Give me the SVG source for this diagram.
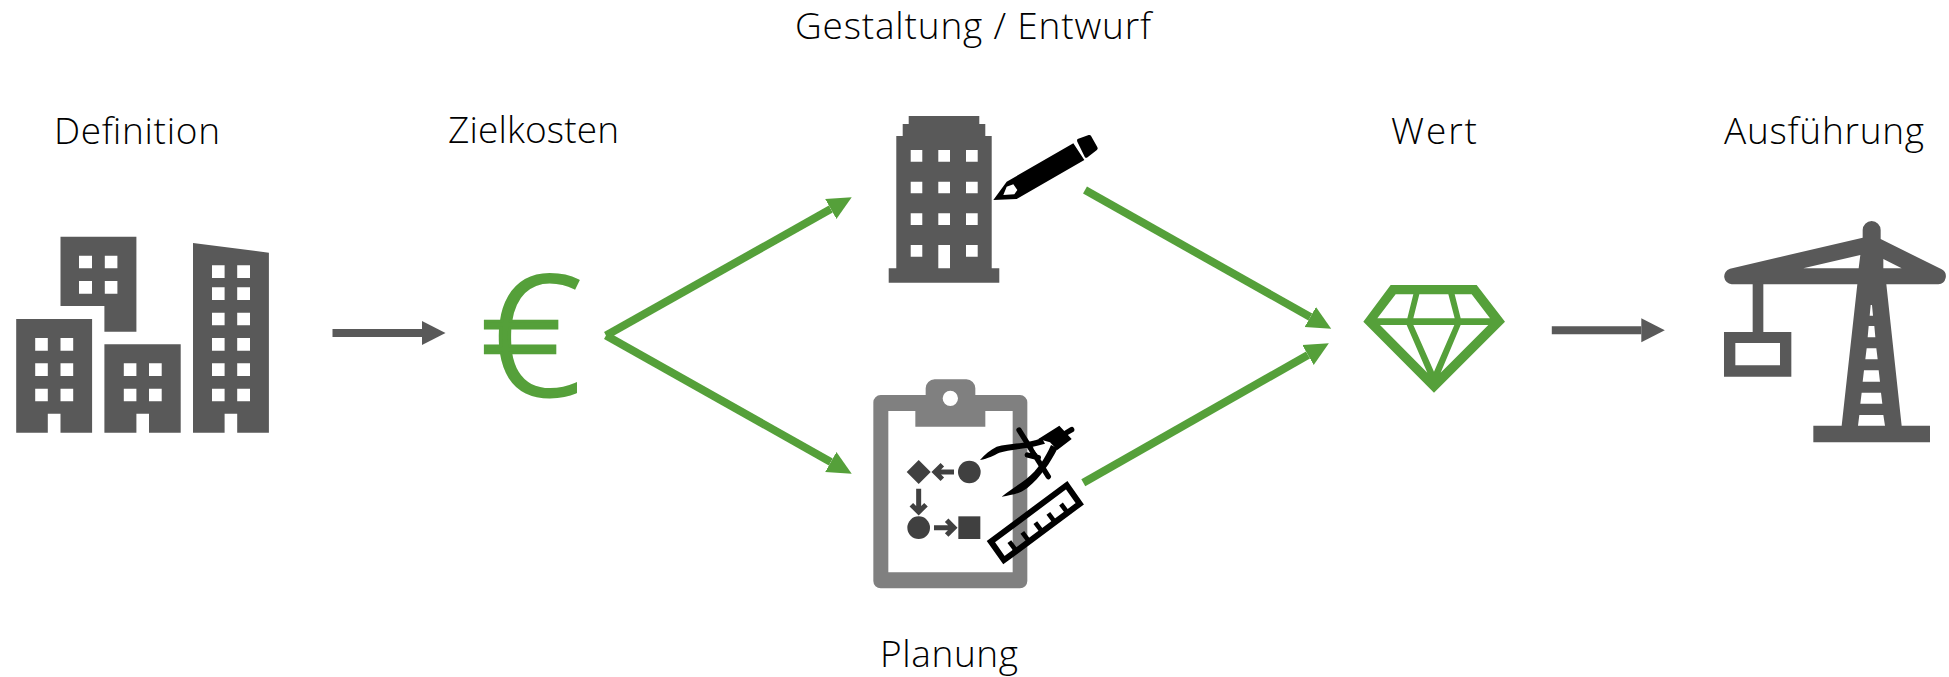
<svg xmlns="http://www.w3.org/2000/svg" width="1949" height="677" viewBox="0 0 1949 677">
<style>
.bg{fill:#fff}
.lbl{font-family:"Open Sans","Noto Sans","Liberation Sans",sans-serif;font-weight:300;font-size:37px;fill:#000}
.g{fill:#595959}
.w{fill:#fff}
.k{fill:#000}
.gr{fill:#55a03a}
.cg{fill:none;stroke:#55a03a;stroke-width:8;marker-end:url(#hg)}
.cd{fill:none;stroke:#595959;stroke-width:8;marker-end:url(#hd)}
.fl{fill:none;stroke:#404040;stroke-width:15}
.ink{fill:none;stroke:#000;stroke-linecap:round;stroke-width:16}
.euro{font-family:"Open Sans","Noto Sans",sans-serif;font-weight:300;font-size:167px;fill:#55a03a;stroke:#55a03a;stroke-width:3}
</style>
<defs>
<marker id="hg" markerUnits="userSpaceOnUse" markerWidth="26" markerHeight="26" refX="0" refY="12" orient="auto" viewBox="0 0 26 24"><path d="M0,0.5L24,12L0,23.500Z" fill="#55a03a"/></marker>
<marker id="hd" markerUnits="userSpaceOnUse" markerWidth="26" markerHeight="26" refX="0" refY="12" orient="auto" viewBox="0 0 26 24"><path d="M0,0L23.500,12L0,24Z" fill="#595959"/></marker>
</defs>
<rect class="bg" width="1949" height="677"/>
<g id="connectors">
<path class="cd" d="M332.500,333H422"/>
<path class="cg" d="M606,335.500L830.800,209"/>
<path class="cg" d="M606,335.500L830.800,462"/>
<path class="cg" d="M1085,190L1310.300,317"/>
<path class="cg" d="M1083.300,482.700L1308,355"/>
<path class="cd" d="M1551.800,330.300H1641.300"/>
</g>
<g id="node-definition">
<text class="lbl" x="54" y="144.300" textLength="166">Definition</text>
<path class="g" fill-rule="evenodd" d="M60.500,236.700H136.400V331.700H104.400V306H60.500ZM79,255.700V268.300H92V255.700ZM104.800,255.700V268.300H117.400V255.700ZM79,281V293.700H92V281ZM104.800,281V293.700H117.400V281Z"/>
<path class="g" fill-rule="evenodd" d="M16.200,319H92.100V432.700H60.500V413.700H47.800V432.700H16.200ZM35.200,338V350.700H47.800V338ZM60.500,338V350.700H73.200V338ZM35.200,363.300V376H47.800V363.300ZM60.500,363.300V376H73.200V363.300ZM35.200,388.700V401.300H47.800V388.700ZM60.500,388.700V401.300H73.200V388.700Z"/>
<path class="g" fill-rule="evenodd" d="M104.400,344.300H180.700V432.700H149V413.700H136.400V432.700H104.400ZM123.800,363.300V376H136.400V363.300ZM149,363.300V376H161.700V363.300ZM123.800,388.700V401.300H136.400V388.700ZM149,388.700V401.300H161.700V388.700Z"/>
<path class="g" fill-rule="evenodd" d="M193,243L268.900,252.700V432.700H237.200V413.700H224.600V432.700H193ZM212,265.300V278H224.600V265.300ZM237.200,265.300V278H250V265.300ZM212,287.300V300H224.600V287.300ZM237.200,287.300V300H250V287.300ZM212,312.700V325.300H224.600V312.700ZM237.200,312.700V325.300H250V312.700ZM212,338V350.700H224.600V338ZM237.200,338V350.700H250V338ZM212,363.300V376H224.600V363.300ZM237.200,363.300V376H250V363.300ZM212,388.700V401.300H224.600V388.700ZM237.200,388.700V401.300H250V388.700Z"/>
</g>
<g id="node-zielkosten">
<text class="lbl" x="448" y="143.300" textLength="171">Zielkosten</text>
<text class="euro" transform="translate(479,394.500) scale(1.08,1)">€</text>
</g>
<g id="node-entwurf">
<text class="lbl" x="795" y="39.300" textLength="356">Gestaltung / Entwurf</text>
<path class="g" fill-rule="evenodd" d="M908.700,116H979.300V124H985.300V136H991.700V268.300H999.300V282.700H888.700V268.300H896.300V136H902.700V124H908.700ZM910.700,150V161.700H922.300V150ZM938.300,150V161.700H950V150ZM966,150V161.700H977.700V150ZM910.700,181.700V193.300H922.300V181.700ZM938.300,181.700V193.300H950V181.700ZM966,181.700V193.300H977.700V181.700ZM910.700,213.300V225H922.300V213.300ZM938.300,213.300V225H950V213.300ZM966,213.300V225H977.700V213.300ZM910.700,245V256.700H922.300V245ZM938.300,245V268.300H950V245ZM966,245V256.700H977.700V245Z"/>
<g transform="translate(985,125) scale(.33333)">
<path class="k" fill-rule="evenodd" d="M25,225L65,170L265,55L298,105L95,222ZM55,210L88,208L97,195L85,178L65,185Z"/>
<path class="k" stroke="#000" stroke-width="12" stroke-linejoin="round" d="M282,47L313,36L332,70L304,92Z"/>
</g>
</g>
<g id="node-planung">
<text class="lbl" x="880" y="667.300" textLength="138">Planung</text>
<g transform="translate(840,360) scale(.33333)">
<path fill="#808080" fill-rule="evenodd" d="M122,105H257V85A27,27 0 0 1 284,58H379A27,27 0 0 1 406,85V105H540A22,22 0 0 1 562,127V663A22,22 0 0 1 540,685H122A22,22 0 0 1 100,663V127A22,22 0 0 1 122,105ZM145,153V637H518V153H436V200H226V153ZM331,92A23,23 0 1 0 331,138A23,23 0 1 0 331,92Z"/>
<path fill="#404040" d="M236,300L272,336L236,372L200,336Z"/>
<circle fill="#404040" cx="388" cy="336" r="34"/>
<circle fill="#404040" cx="236" cy="503" r="34"/>
<rect fill="#404040" x="355" y="469" width="66" height="68"/>
<path class="fl" d="M342,336H286M307,314L285,336L307,358M236,386V454M214,434L236,456L258,434M282,503H342M320,481L342,503L320,525"/>
</g>
<g transform="translate(970,415) scale(.33333)">
<path fill="none" stroke="#000" stroke-width="18" d="M62.600,379.800L290.200,210.600L329.400,266.200L101.800,435.400Z"/>
<path fill="none" stroke="#000" stroke-width="14" d="M118,380L136,404M157,352L175,376M196,323L214,347M235,295L253,319M273,267L291,291"/>
<path class="k" d="M215,68C180,85 120,85 80,95C60,105 45,118 30,135C55,130 70,122 88,113C120,103 170,103 225,86Z"/>
<path class="k" d="M243,90C225,130 205,163 168,193C148,208 125,222 95,245C125,240 150,236 172,219C212,187 242,142 263,100Z"/>
<path class="k" d="M205,72L268,32L305,72L262,105L240,82Z"/>
<path class="ink" d="M147,45L235,185M172,120L205,128M288,54L305,44"/>
<path class="w" d="M190,100L212,100L200,115Z"/>
</g>
</g>
<g id="node-wert">
<text class="lbl" x="1391" y="144.300" textLength="86">Wert</text>
<g transform="translate(1350,275) scale(.33333)">
<path class="gr" fill-rule="evenodd" d="M40,140L122,30H380L465,140L252,353ZM137,58L82,130H172L190,58ZM208,58L190,130H314L295,58ZM314,58L332,130H420L365,58ZM90,150L232,293L170,150ZM190,150L252,290L313,150ZM332,150L272,293L415,150Z"/>
</g>
</g>
<g id="node-ausfuehrung">
<text class="lbl" x="1724" y="144" textLength="200">Ausführung</text>
<g transform="translate(1715,215) scale(.33333)">
<path class="g" fill-rule="evenodd" d="M443,68V45A27,27 0 0 1 497,45V72L680,163A24,24 0 0 1 670,208H514L560,632H645V682H295V632H380L427,208H50A24,24 0 0 1 45,161ZM265,160H431L436,120ZM505,132V160H560ZM467,270L464,302H474L471,270ZM461,333L458,367H481L478,333ZM455,400L451,433H488L484,400ZM447,466L443,500H495L491,466ZM440,533L436,566H502L498,533ZM433,600L429,632H510L505,600Z"/>
<path class="g" fill-rule="evenodd" d="M113,200H145V351H229V485H27V351H113ZM61,384V451H195V384Z"/>
</g>
</g>
</svg>
